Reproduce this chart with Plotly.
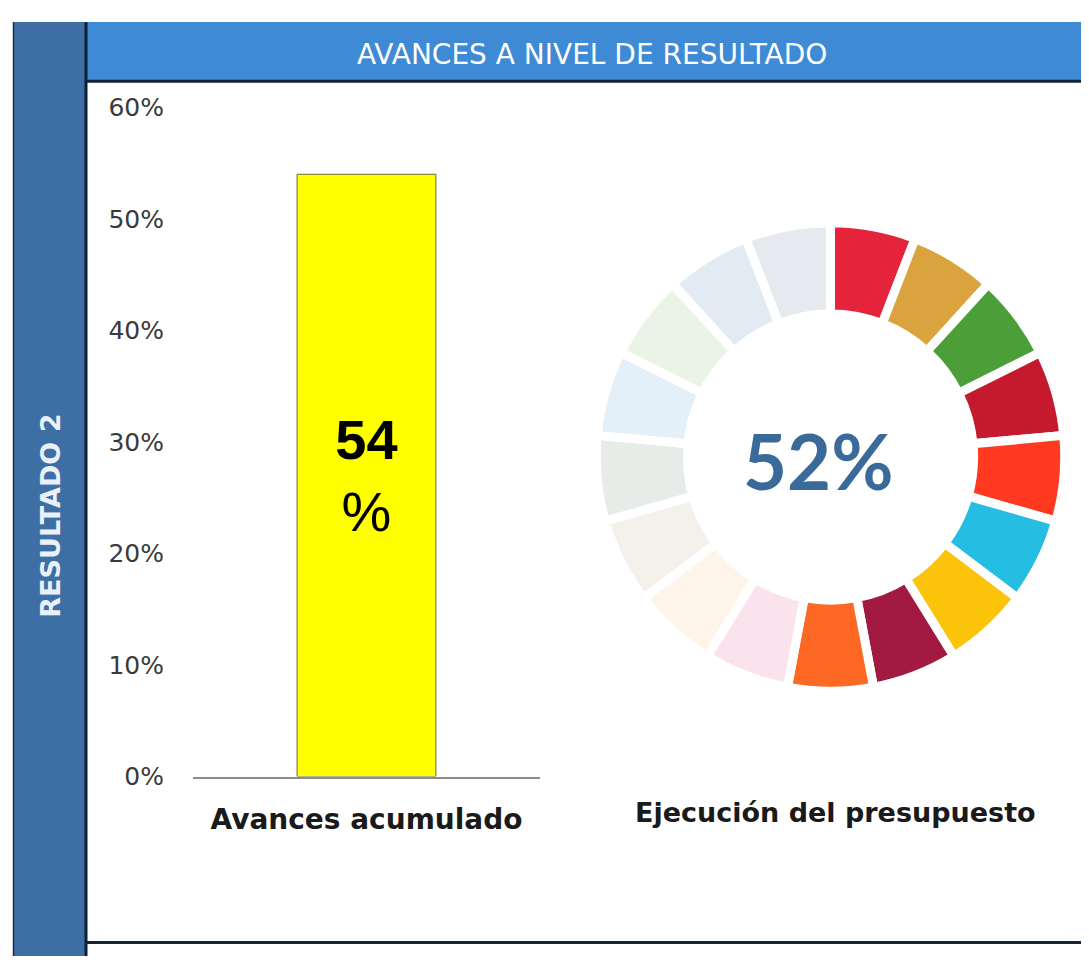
import plotly.graph_objects as go

W, H = 1089, 963
OFF = 8  # page margin of the browser body

# ---- data ----
bar_categories = ["Avances acumulado"]
bar_values = [0.54]
bar_text = ["<b>54</b><br>%"]
y_tick_values = [0, 0.1, 0.2, 0.3, 0.4, 0.5, 0.6]
y_tick_labels = ["0%", "10%", "20%", "30%", "40%", "50%", "60%"]

donut_labels = ["ODS 1", "ODS 2", "ODS 3", "ODS 4", "ODS 5", "ODS 6", "ODS 7", "ODS 8", "ODS 9",
                "ODS 10", "ODS 11", "ODS 12", "ODS 13", "ODS 14", "ODS 15", "ODS 16", "ODS 17"]
donut_values = [1, 1, 1, 1, 1, 1, 1, 1, 1, 1, 1, 1, 1, 1, 1, 1, 1]
donut_colors = ["#E5243B", "#DAA33E", "#4C9F38", "#C5192D", "#FF3A21", "#26BDE2", "#FCC30B",
                "#A21942", "#FD6925",
                "#FBE3EE", "#FEF4EA", "#F4F0EA", "#E7ECE9", "#E3F0F9", "#EAF4E6", "#E2EAF3", "#E6EAEF"]
budget_pct = "52%"

title_text = "AVANCES A NIVEL DE RESULTADO"
side_text = "RESULTADO 2"
donut_caption = "Ejecución del presupuesto"


def px(x):
    """screen x (pixels in final picture) -> paper fraction"""
    return (x - OFF) / W


def py(y):
    """screen y (pixels in final picture) -> paper fraction"""
    return 1 - (y - OFF) / H


fig = go.Figure()

fig.add_trace(go.Bar(
    x=bar_categories, y=bar_values, text=bar_text, textposition="inside",
    insidetextanchor="middle",
    textfont=dict(family="Liberation Sans", size=56, color="#000000"),
    marker=dict(color="#FFFF00", line=dict(color="#6e6a2a", width=1)),
    width=0.4, hoverinfo="skip",
))

# donut
cx, cy, rr = 830.5, 456.5, 241.5
fig.add_trace(go.Pie(
    labels=donut_labels, values=donut_values, sort=False, direction="clockwise", rotation=0,
    hole=0.611, marker=dict(colors=donut_colors, line=dict(color="#FFFFFF", width=9)),
    textinfo="none", hoverinfo="skip", showlegend=False,
    domain=dict(x=[px(cx - rr), px(cx + rr)], y=[py(cy + rr), py(cy - rr)]),
))

fig.update_layout(
    width=W, height=H, margin=dict(l=0, r=0, t=0, b=0),
    paper_bgcolor="#FFFFFF", plot_bgcolor="rgba(0,0,0,0)", showlegend=False,
    xaxis=dict(domain=[px(193), px(540)], showline=True, linecolor="#8c8c8c", linewidth=1.5,
               ticks="", tickfont=dict(family="DejaVu Sans", size=28, color="#1a1a1a", weight="bold"),
               ticklabelstandoff=17, showgrid=False, zeroline=False, fixedrange=True),
    yaxis=dict(domain=[py(786), py(96)], range=[0, 0.6], tickvals=y_tick_values,
               ticktext=y_tick_labels, showgrid=False, zeroline=False, showline=False,
               tickfont=dict(family="DejaVu Sans", size=25, color="#3a3a3a"),
               ticklabelstandoff=28, fixedrange=True),
    shapes=[
        # left side band
        dict(type="rect", xref="paper", yref="paper", x0=px(13), x1=px(85), y0=0, y1=py(8),
             fillcolor="#3D6FA5", line=dict(width=0), layer="below"),
        dict(type="line", xref="paper", yref="paper", x0=px(13.5), x1=px(13.5), y0=0, y1=py(8),
             line=dict(color="#1a2a40", width=1.5)),
        dict(type="line", xref="paper", yref="paper", x0=px(86), x1=px(86), y0=0, y1=py(8),
             line=dict(color="#0f1f35", width=3)),
        # header band
        dict(type="rect", xref="paper", yref="paper", x0=px(87), x1=1, y0=py(68), y1=py(8),
             fillcolor="#3F8AD4", line=dict(width=0), layer="below"),
        dict(type="line", xref="paper", yref="paper", x0=px(87), x1=1, y0=py(69), y1=py(69),
             line=dict(color="#14243a", width=3)),
        # bottom border
        dict(type="line", xref="paper", yref="paper", x0=px(87), x1=1, y0=py(957), y1=py(957),
             line=dict(color="#14243a", width=3)),
    ],
    annotations=[
        dict(text=title_text, xref="paper", yref="paper", x=px(592), y=py(41), showarrow=False,
             font=dict(family="DejaVu Sans", size=28, color="#FFFFFF"), xanchor="center", yanchor="middle"),
        dict(text=side_text, xref="paper", yref="paper", x=px(51), y=py(517), showarrow=False,
             textangle=-90, font=dict(family="DejaVu Sans", size=27, color="#EAF0F8", weight="bold"),
             xanchor="center", yanchor="middle"),
        dict(text=budget_pct, xref="paper", yref="paper", x=px(818), y=py(460), showarrow=False,
             font=dict(family="Lato", size=76, color="#3A6A9A", weight="bold"),
             xanchor="center", yanchor="middle"),
        dict(text=donut_caption, xref="paper", yref="paper", x=px(835), y=py(823), showarrow=False,
             font=dict(family="DejaVu Sans", size=27, color="#1a1a1a", weight="bold"),
             xanchor="center", yanchor="middle"),
    ],
)

fig.write_html("out.html")
